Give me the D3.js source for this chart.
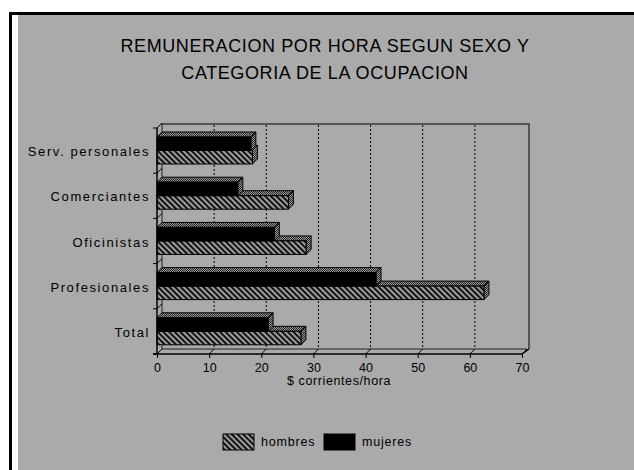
<!DOCTYPE html>
<html>
<head>
<meta charset="utf-8">
<script src="https://cdn.jsdelivr.net/npm/d3@7"></script>
<style>
  html, body { margin: 0; padding: 0; background: #ffffff; }
  svg { display: block; font-family: "Liberation Sans", Arial, sans-serif; }
</style>
</head>
<body>
<svg id="chart" width="634" height="470"></svg>
<script>
// ---- data ----
const titleLines = ["REMUNERACION POR HORA SEGUN SEXO Y", "CATEGORIA DE LA OCUPACION"];
const categories = ["Serv. personales", "Comerciantes", "Oficinistas", "Profesionales", "Total"];
const mujeres = [18.0, 15.5, 22.5, 42.0, 21.3];
const hombres = [18.3, 25.2, 28.6, 62.7, 27.6];
const seriesNames = ["mujeres", "hombres"];
const xTicks = [0, 10, 20, 30, 40, 50, 60, 70];
const xTitle = "$ corrientes/hora";
const legendItems = ["hombres", "mujeres"];

// ---- setup ----
const svg = d3.select("#chart");
const defs = svg.append("defs");

const hatch = defs.append("pattern")
  .attr("id", "hatch").attr("patternUnits", "userSpaceOnUse")
  .attr("width", 4).attr("height", 4)
  .attr("patternTransform", "rotate(-45)");
hatch.append("rect").attr("width", 4).attr("height", 4).attr("fill", "#6e6e6e");
hatch.append("rect").attr("x", 0).attr("width", 1.6).attr("height", 4).attr("fill", "#000");
hatch.append("rect").attr("x", 2.4).attr("width", 0.9).attr("height", 4).attr("fill", "#d0d0d0");

const dots = defs.append("pattern")
  .attr("id", "dots").attr("patternUnits", "userSpaceOnUse")
  .attr("width", 2).attr("height", 2);
dots.append("rect").attr("width", 2).attr("height", 2).attr("fill", "#9a9a9a");
dots.append("rect").attr("width", 1).attr("height", 1).attr("fill", "#222");
dots.append("rect").attr("x", 1).attr("y", 1).attr("width", 1).attr("height", 1).attr("fill", "#222");

// frame
svg.append("rect").attr("x", 9).attr("y", 12).attr("width", 625).attr("height", 458).attr("fill", "#000");
svg.append("rect").attr("x", 12).attr("y", 15).attr("width", 622).attr("height", 455).attr("fill", "#fff");
svg.append("rect").attr("x", 18).attr("y", 15).attr("width", 616).attr("height", 455).attr("fill", "#aaaaaa");

// title
svg.append("g").selectAll("text").data(titleLines).join("text")
  .attr("x", 325).attr("y", (d, i) => 52 + i * 27)
  .attr("text-anchor", "middle")
  .attr("font-size", 18).attr("letter-spacing", 0.6)
  .attr("fill", "#000")
  .text(d => d);

// scales
const x = d3.scaleLinear().domain([0, 70]).range([157, 522]);
const y = d3.scaleBand().domain(categories).range([128, 354]).padding(0);
const sub = d3.scaleBand().domain(seriesNames).range([9, 36]);
const D = 5; // depth offset

// back wall & floor
const g = svg.append("g");
g.append("line").attr("x1", x(0) + D).attr("x2", x(70) + D + 2).attr("y1", y.range()[0] - D + 1).attr("y2", y.range()[0] - D + 1)
  .attr("stroke", "#555").attr("stroke-width", 2);
g.append("line").attr("x1", x(70) + D + 2).attr("x2", x(70) + D + 2).attr("y1", y.range()[0] - D).attr("y2", y.range()[1] - D)
  .attr("stroke", "#555").attr("stroke-width", 2);
g.append("line").attr("x1", x(0) + D).attr("x2", x(70) + D).attr("y1", y.range()[1] - D).attr("y2", y.range()[1] - D)
  .attr("stroke", "#222").attr("stroke-width", 1);
g.append("line").attr("x1", x(0) + D).attr("x2", x(0) + D).attr("y1", y.range()[0] - D).attr("y2", y.range()[1] - D)
  .attr("stroke", "#222").attr("stroke-width", 1);

// gridlines (dotted, on back wall)
g.selectAll(".grid").data(xTicks.filter(t => t > 0 && t < 70)).join("line")
  .attr("x1", d => x(d) + D).attr("x2", d => x(d) + D)
  .attr("y1", y.range()[0] - D + 2).attr("y2", y.range()[1] - D)
  .attr("stroke", "#000").attr("stroke-width", 1).attr("stroke-dasharray", "2,2");

// floor diagonals at ticks
g.selectAll(".fd").data(xTicks).join("line")
  .attr("x1", d => x(d)).attr("x2", d => x(d) + D)
  .attr("y1", y.range()[1]).attr("y2", y.range()[1] - D)
  .attr("stroke", "#000");

// side diagonals at category boundaries
const bounds = categories.map(c => y(c)).concat([y.range()[1]]);
g.selectAll(".sd").data(bounds).join("line")
  .attr("x1", x(0)).attr("x2", x(0) + D)
  .attr("y1", d => d).attr("y2", d => d - D)
  .attr("stroke", "#000");
g.selectAll(".st").data(bounds).join("line")
  .attr("x1", x(0) - 4).attr("x2", x(0))
  .attr("y1", d => d).attr("y2", d => d)
  .attr("stroke", "#000");

// bars
function bar3d(sel, val, top, h, fill) {
  const x0 = x(0), x1 = x(val);
  sel.append("path")
    .attr("d", `M${x0},${top} L${x0 + D},${top - D} L${x1 + D},${top - D} L${x1},${top} Z`)
    .attr("fill", "url(#dots)").attr("stroke", "#000").attr("stroke-width", 1);
  sel.append("path")
    .attr("d", `M${x1},${top} L${x1 + D},${top - D} L${x1 + D},${top + h - D} L${x1},${top + h} Z`)
    .attr("fill", "url(#dots)").attr("stroke", "#000").attr("stroke-width", 1);
  sel.append("rect")
    .attr("x", x0).attr("y", top).attr("width", x1 - x0).attr("height", h)
    .attr("fill", fill).attr("stroke", "#000").attr("stroke-width", 1);
}
const barsG = svg.append("g");
categories.forEach((c, i) => {
  const gg = barsG.append("g");
  bar3d(gg, hombres[i], y(c) + sub("hombres"), sub.bandwidth(), "url(#hatch)");
  bar3d(gg, mujeres[i], y(c) + sub("mujeres"), sub.bandwidth(), "#000");
});

// front axes
svg.append("line").attr("x1", x(0)).attr("x2", x(0)).attr("y1", y.range()[0]).attr("y2", y.range()[1])
  .attr("stroke", "#000").attr("stroke-width", 1.5);
svg.append("line").attr("x1", x(0) - 4).attr("x2", x(70)).attr("y1", y.range()[1]).attr("y2", y.range()[1])
  .attr("stroke", "#000").attr("stroke-width", 1.5);
svg.append("line").attr("x1", x(70)).attr("x2", x(70) + D + 2).attr("y1", y.range()[1]).attr("y2", y.range()[1] - D)
  .attr("stroke", "#000").attr("stroke-width", 1.5);

// x axis
const xAxis = d3.axisBottom(x).tickValues(xTicks).tickSize(4).tickFormat(d3.format("d"));
const xa = svg.append("g").attr("transform", `translate(0,${y.range()[1]})`).call(xAxis);
xa.select(".domain").remove();
xa.selectAll("line").attr("stroke", "#000");
xa.selectAll("text").attr("font-size", 12.5).attr("fill", "#000").attr("dy", "0.9em")
  .attr("font-family", "Liberation Sans, Arial, sans-serif");

svg.append("text").attr("x", 339).attr("y", 385).attr("text-anchor", "middle")
  .attr("font-size", 12.5).attr("letter-spacing", 0.6).attr("fill", "#000").text(xTitle);

// y labels
svg.append("g").selectAll("text").data(categories).join("text")
  .attr("x", 150).attr("y", d => y(d) + y.bandwidth() / 2 + 1)
  .attr("dy", "0.35em").attr("text-anchor", "end")
  .attr("font-size", 13).attr("letter-spacing", 1.6).attr("fill", "#000")
  .text(d => d);

// legend
const leg = svg.append("g");
const legX = [223, 324];
legendItems.forEach((name, i) => {
  leg.append("rect").attr("x", legX[i]).attr("y", 434).attr("width", 31).attr("height", 16)
    .attr("fill", name === "hombres" ? "url(#hatch)" : "#000").attr("stroke", "#000");
  leg.append("text").attr("x", legX[i] + 38).attr("y", 446)
    .attr("font-size", 12.5).attr("letter-spacing", 0.8).attr("fill", "#000").text(name);
});
</script>
</body>
</html>
